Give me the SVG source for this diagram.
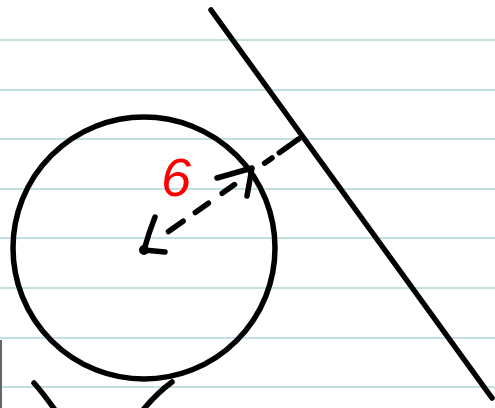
<svg xmlns="http://www.w3.org/2000/svg" width="495" height="408" viewBox="0 0 495 408">
<style>
.rule{stroke:#aed6d8;stroke-width:1.5}
.ink{fill:none;stroke:#000;stroke-width:5.5;stroke-linecap:round;stroke-linejoin:round}
.label{font-family:"Liberation Sans",Arial,sans-serif;font-style:italic;font-size:54px;fill:#ff0000}
</style>
<rect width="495" height="408" fill="#ffffff"/>
<g id="paper">
<line class="rule" x1="0" y1="40" x2="495" y2="40"/>
<line class="rule" x1="0" y1="90" x2="495" y2="90"/>
<line class="rule" x1="0" y1="139" x2="495" y2="139"/>
<line class="rule" x1="0" y1="189" x2="495" y2="189"/>
<line class="rule" x1="0" y1="238" x2="495" y2="238"/>
<line class="rule" x1="0" y1="288" x2="495" y2="288"/>
<line class="rule" x1="0" y1="338" x2="495" y2="338"/>
<line class="rule" x1="0" y1="387" x2="495" y2="387"/>
<line x1="1" y1="340" x2="1" y2="408" stroke="#666" stroke-width="2"/>
</g>
<g id="circle">
<circle class="ink" cx="144" cy="248" r="131"/>
<circle cx="144" cy="250" r="5" fill="#000"/>
</g>
<g id="tangent-line">
<line class="ink" x1="211" y1="10" x2="492" y2="398" stroke-width="6.5"/>
</g>
<g id="partial-shapes">
<path class="ink" d="M34,383 Q43,393 55,410"/>
<path class="ink" d="M172,382 Q157,393 143,410"/>
</g>
<g id="connectors">
<path class="ink" stroke-width="6" d="M168.5,231.6 L183.1,221.2 M195.3,212.5 L208.4,203.2 M222.2,193.3 L234.5,184.6 M264.6,163.2 L272,158 M279.3,152.7 L298.9,138.8"/>
<path class="ink" stroke-width="6" d="M217,178 L252,168 L247,196"/>
<path class="ink" stroke-width="6" d="M155,217 Q149,232 144,250 L165,252"/>
</g>
<g id="label">
<text class="label" x="161" y="196">6</text>
</g>
</svg>
